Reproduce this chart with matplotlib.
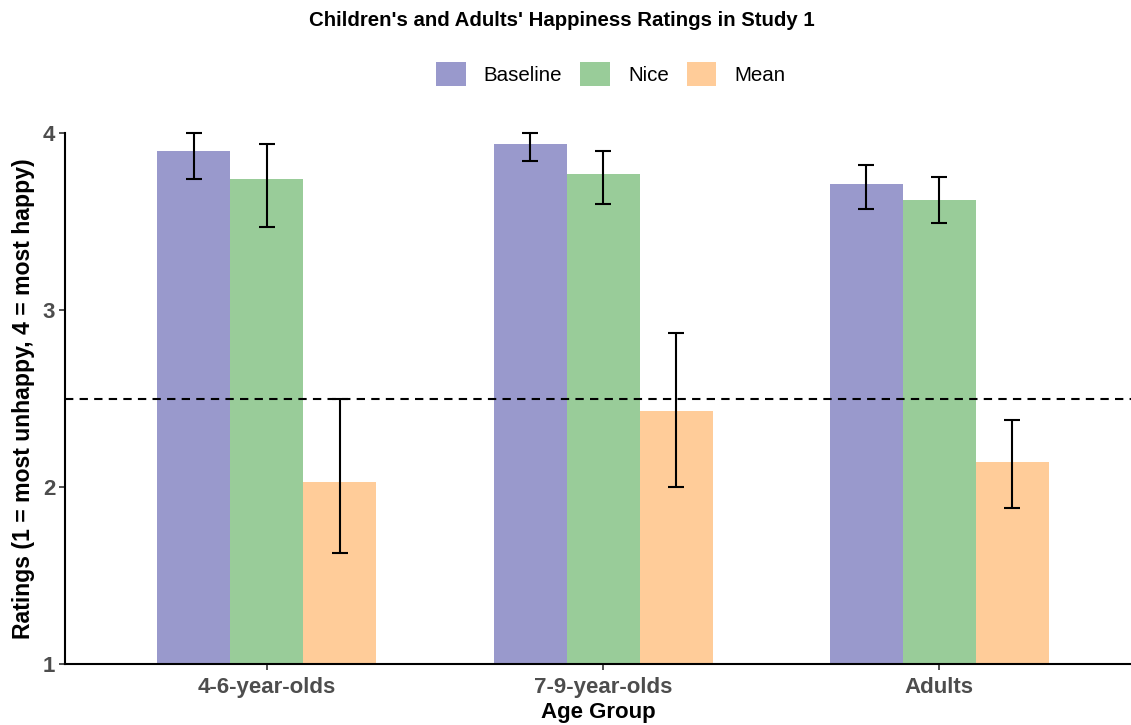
import numpy as np
import matplotlib.pyplot as plt

groups = ["4-6-year-olds", "7-9-year-olds", "Adults"]
conditions = ["Baseline", "Nice", "Mean"]
colors = ["#9999CC", "#99CC99", "#FFCC99"]

means = {
    "Baseline": [3.90, 3.94, 3.71],
    "Nice": [3.74, 3.77, 3.62],
    "Mean": [2.03, 2.43, 2.14],
}
lower = {
    "Baseline": [3.74, 3.84, 3.57],
    "Nice": [3.47, 3.60, 3.49],
    "Mean": [1.63, 2.00, 1.88],
}
upper = {
    "Baseline": [4.00, 4.00, 3.82],
    "Nice": [3.94, 3.90, 3.75],
    "Mean": [2.50, 2.87, 2.38],
}
chance = 2.5

plt.rcParams["font.family"] = ["Liberation Sans", "DejaVu Sans"]

fig = plt.figure(figsize=(11.31, 7.25), dpi=100)
ax = fig.add_axes([0.0575, 0.0841, 0.9425, 0.7324])

x = np.arange(1, len(groups) + 1)
width = 0.217

for i, cond in enumerate(conditions):
    pos = x + (i - 1) * width
    m = np.array(means[cond])
    lo = np.array(lower[cond])
    hi = np.array(upper[cond])
    ax.bar(pos, m - 1, bottom=1, width=width, color=colors[i],
           label=cond, zorder=2)
    ax.errorbar(pos, m, yerr=[m - lo, hi - m], fmt="none", ecolor="black",
                elinewidth=1.5, capsize=6, capthick=1.5, zorder=3,
                clip_on=False)

ax.axhline(chance, color="black", linestyle=(0, (4, 3)), linewidth=1.5,
           zorder=4)

ax.set_xlim(0.4, 3.57)
ax.set_ylim(1, 4)
ax.set_xticks(x)
ax.set_xticklabels(groups)
ax.set_yticks([1, 2, 3, 4])
ax.tick_params(axis="both", labelsize=16, labelcolor="#4D4D4D", length=4,
               width=1.2, color="#333333", pad=3)
ax.tick_params(axis="x", pad=5)
for lab in ax.get_xticklabels() + ax.get_yticklabels():
    lab.set_fontweight("bold")

for side in ["top", "right"]:
    ax.spines[side].set_visible(False)
for side in ["left", "bottom"]:
    ax.spines[side].set_linewidth(1.5)
    ax.spines[side].set_color("black")

ax.set_xlabel("Age Group", fontsize=16, fontweight="bold", labelpad=3)
ax.set_ylabel("Ratings (1 = most unhappy, 4 = most happy)", fontsize=16.6,
              fontweight="bold", labelpad=6)

fig.text(0.497, 0.972, "Children's and Adults' Happiness Ratings in Study 1",
         ha="center", va="center", fontsize=14.7, fontweight="bold")

fig.legend(loc="center", bbox_to_anchor=(0.540, 0.898), ncol=3,
           frameon=False, fontsize=14.8, handlelength=1.45, handleheight=1.4,
           handletextpad=0.87, columnspacing=0.87)

fig.savefig("out.png", dpi=100)
